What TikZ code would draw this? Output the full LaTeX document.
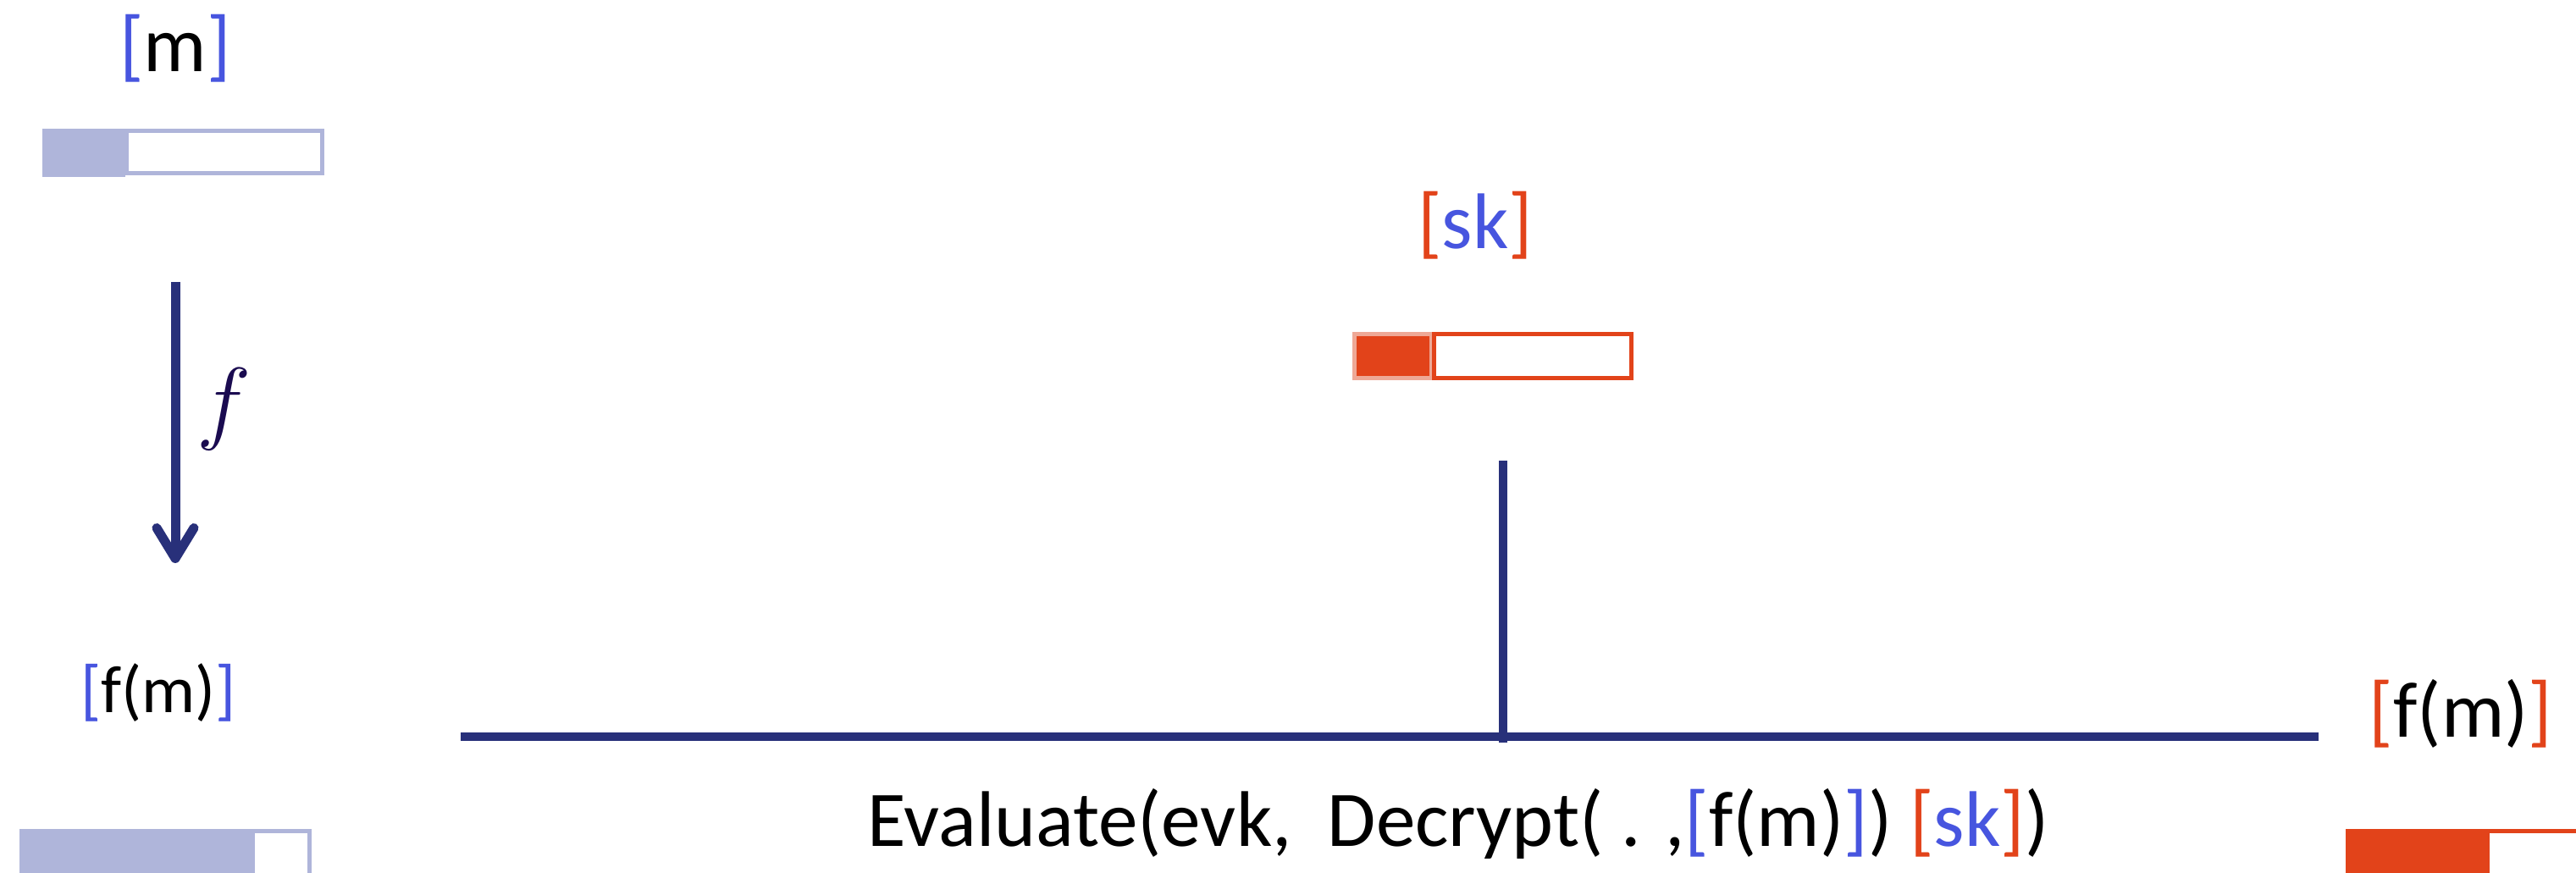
\documentclass[tikz,border=0pt]{standalone}
\usepackage{fix-cm}
\usepackage{fontspec}
\setmainfont{Carlito}
\usetikzlibrary{arrows.meta}

\definecolor{navy}{HTML}{28307A}
\definecolor{encblue}{HTML}{4755DF}
\definecolor{encred}{HTML}{E2431A}
\definecolor{lavender}{HTML}{AFB5DA}
\definecolor{palered}{HTML}{EEA896}
\definecolor{fpurple}{HTML}{1A0B50}

\newcommand{\blueenc}[1]{\textcolor{encblue}{[}#1\textcolor{encblue}{]}}
\newcommand{\redenc}[1]{\textcolor{encred}{[}#1\textcolor{encred}{]}}

\tikzset{
	lbl/.style={anchor=center, align=center, inner sep=0pt, font=\fontsize{26.5}{31}\selectfont},
	wire/.style={color=navy, line width=0.105cm},
}

\begin{document}
\begin{tikzpicture}
	\useasboundingbox (0,0) rectangle (30.42,10.31);
	
	%plaintext m and its bar
	\node[lbl] (m) at (2.07,9.74) {\blueenc{m}};
	\fill[lavender] (0.50,8.22) rectangle (1.48,8.79);
	\draw[lavender, line width=0.05cm] (1.495,8.765) rectangle (3.805,8.265);
	
	%apply f
	\coordinate (ftop) at (2.07,6.98);
	\coordinate (fbot) at (2.07,3.66);
	\draw[-{Straight Barb[length=0.36cm,width=0.44cm,line cap=round,round]}, color=navy, line width=0.11cm] (ftop) -- (fbot);
	\node[text=fpurple, inner sep=0pt] (flbl) at (2.65,5.48) {\fontsize{31}{36}\selectfont$f$};
	
	%encrypted f(m) on the left
	\node[lbl, font=\fontsize{22.5}{26}\selectfont] (fml) at (1.87,2.13) {\blueenc{f(m)}};
	\fill[lavender] (0.23,-0.10) rectangle (2.97,0.52);
	\draw[lavender, line width=0.05cm] (2.985,0.495) rectangle (3.655,-0.10);
	
	%key sk
	\node[lbl] (sk) at (17.42,7.65) {\redenc{\textcolor{encblue}{sk}}};
	\fill[palered] (15.97,5.82) rectangle (16.91,6.39);
	\fill[encred] (16.02,5.87) rectangle (16.88,6.34);
	\draw[encred, line width=0.05cm] (16.935,6.365) rectangle (19.265,5.845);
	
	%evaluation wires
	\coordinate (ktop) at (17.75,4.87);
	\coordinate (kbot) at (17.75,1.54);
	\coordinate (wl) at (5.44,1.61);
	\coordinate (wr) at (27.38,1.61);
	\draw[wire] (ktop) -- (kbot);
	\draw[wire] (wl) -- (wr);
	\node[anchor=base, inner sep=0pt, font=\fontsize{26.5}{31}\selectfont] (eval) at (17.22,0.31) {Evaluate(evk,~ Decrypt( . ,\blueenc{f(m)}) \redenc{\textcolor{encblue}{sk}})};
	
	%decrypted f(m) on the right
	\node[lbl] (fmr) at (29.06,1.88) {\redenc{f(m)}};
	\fill[encred] (27.70,-0.10) rectangle (29.36,0.52);
	\draw[encred, line width=0.05cm] (29.375,0.495) rectangle (31.0,-0.10);
	
\end{tikzpicture}
\end{document}
